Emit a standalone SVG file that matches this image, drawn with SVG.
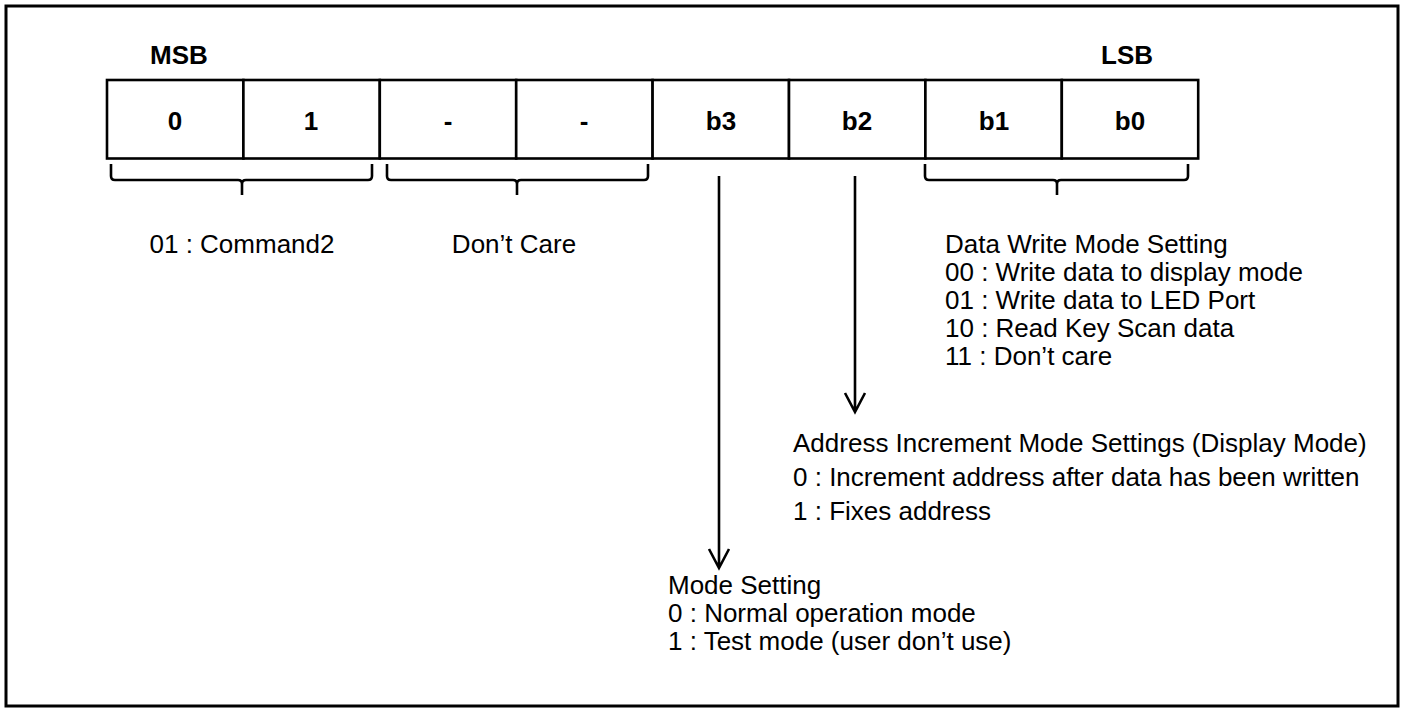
<svg xmlns="http://www.w3.org/2000/svg" width="1401" height="708" viewBox="0 0 1401 708">
<style>
.t{font-family:"Liberation Sans",Arial,sans-serif;font-size:26px;fill:#000}
.b{font-family:"Liberation Sans",Arial,sans-serif;font-size:26px;font-weight:bold;fill:#000;text-anchor:middle}
.cell{fill:#fff;stroke:#000;stroke-width:2.6}
.ln{fill:none;stroke:#000;stroke-width:2.6}
</style>
<rect x="6" y="6" width="1392" height="700" fill="#fff" stroke="#000" stroke-width="3"/>
<g id="labels">
<text class="b" x="179" y="64">MSB</text>
<text class="b" x="1127" y="64">LSB</text>
</g>
<g id="register">
<rect class="cell" x="107" y="80" width="136.4" height="78.5"/>
<rect class="cell" x="243.4" y="80" width="136.4" height="78.5"/>
<rect class="cell" x="379.8" y="80" width="136.4" height="78.5"/>
<rect class="cell" x="516.2" y="80" width="136.4" height="78.5"/>
<rect class="cell" x="652.6" y="80" width="136.4" height="78.5"/>
<rect class="cell" x="789" y="80" width="136.4" height="78.5"/>
<rect class="cell" x="925.4" y="80" width="136.4" height="78.5"/>
<rect class="cell" x="1061.8" y="80" width="136.4" height="78.5"/>
<text class="b" x="175" y="130">0</text>
<text class="b" x="311" y="130">1</text>
<text class="b" x="448" y="130">-</text>
<text class="b" x="584" y="130">-</text>
<text class="b" x="721" y="130">b3</text>
<text class="b" x="857" y="130">b2</text>
<text class="b" x="994" y="130">b1</text>
<text class="b" x="1130" y="130">b0</text>
</g>
<g id="connectors">
<path class="ln" d="M111,164 V176 Q111,180 115,180 H238 Q242,180 242,184 V195 M242,184 Q242,180 246,180 H368 Q372,180 372,176 V164"/>
<path class="ln" d="M387,164 V176 Q387,180 391,180 H513 Q517,180 517,184 V195 M517,184 Q517,180 521,180 H644 Q648,180 648,176 V164"/>
<path class="ln" d="M925,164 V176 Q925,180 929,180 H1053 Q1057,180 1057,184 V195 M1057,184 Q1057,180 1061,180 H1184 Q1188,180 1188,176 V164"/>
<path class="ln" d="M719,176 V568 M709,549 L719,568 L729,549"/>
<path class="ln" d="M855,176 V412 M845,393 L855,412 L865,393"/>
</g>
<g id="cmd">
<text class="t" x="242" y="253" text-anchor="middle">01 : Command2</text>
</g>
<g id="dontcare">
<text class="t" x="514" y="253" text-anchor="middle">Don’t Care</text>
</g>
<g id="datawrite">
<text class="t" x="945" y="253">Data Write Mode Setting</text>
<text class="t" x="945" y="281">00 : Write data to display mode</text>
<text class="t" x="945" y="309">01 : Write data to LED Port</text>
<text class="t" x="945" y="337">10 : Read Key Scan data</text>
<text class="t" x="945" y="365">11 : Don’t care</text>
</g>
<g id="address">
<text class="t" x="793" y="452">Address Increment Mode Settings (Display Mode)</text>
<text class="t" x="793" y="486">0 : Increment address after data has been written</text>
<text class="t" x="793" y="520">1 : Fixes address</text>
</g>
<g id="mode">
<text class="t" x="668" y="594">Mode Setting</text>
<text class="t" x="668" y="622">0 : Normal operation mode</text>
<text class="t" x="668" y="650">1 : Test mode (user don’t use)</text>
</g>
</svg>
